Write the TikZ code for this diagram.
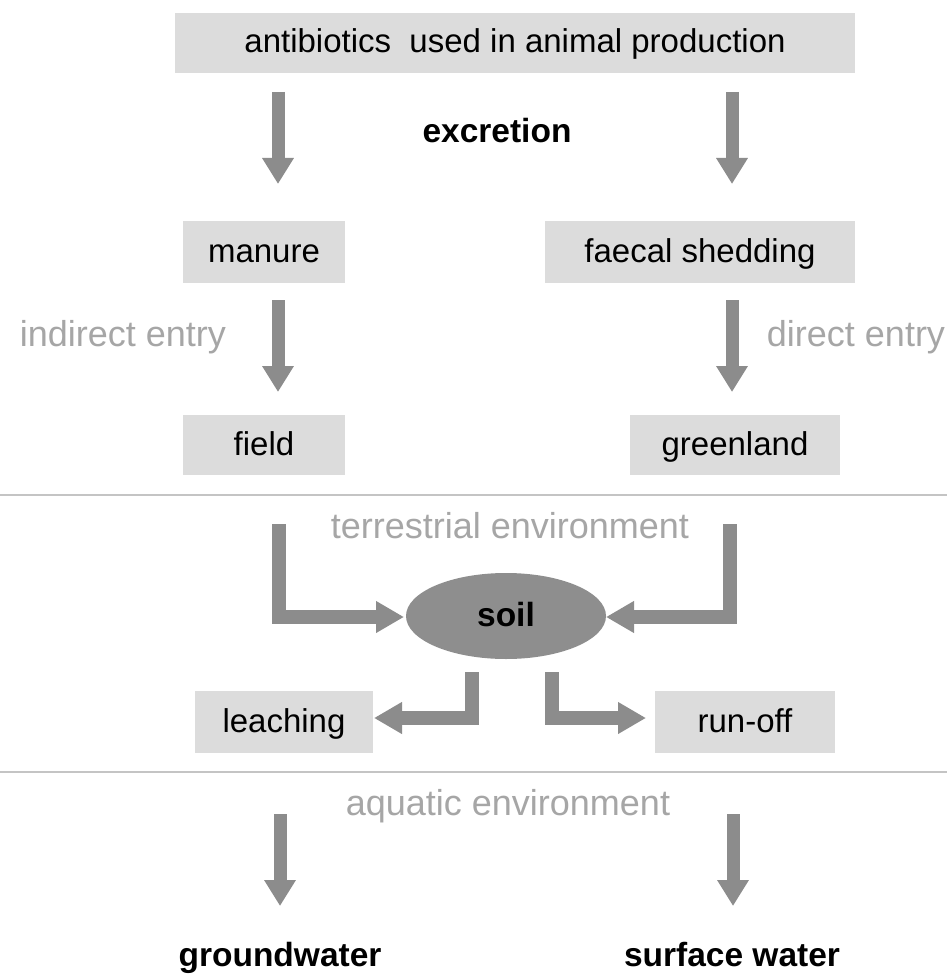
\documentclass[tikz,border=0pt]{standalone}
\usepackage{fontspec}
\setmainfont{Liberation Sans}
\usetikzlibrary{arrows.meta,shapes.geometric}
\definecolor{boxgray}{HTML}{DCDCDC}
\definecolor{arrgray}{HTML}{8C8C8C}
\definecolor{soilgray}{HTML}{8E8E8E}
\definecolor{txtgray}{HTML}{A6A6A6}
\definecolor{linegray}{HTML}{C4C4C4}
\begin{document}
\begin{tikzpicture}[x=1pt,y=-1pt,
  boxnode/.style={rectangle, fill=boxgray, inner sep=0pt, text height=26pt, text depth=6pt, font=\fontsize{33}{39}\selectfont},
  bigarrow/.style={draw=arrgray, line width=13pt, -{Triangle[width=30pt,length=26pt]}},
  elbow/.style={draw=arrgray, line width=14pt, -{Triangle[width=30pt,length=28pt]}},
  boldlabel/.style={text height=26pt, text depth=6pt, font=\fontsize{33.5}{39}\selectfont\bfseries},
  graylabel/.style={text=txtgray, text height=27pt, text depth=6pt, font=\fontsize{36}{42}\selectfont},
  sepline/.style={draw=linegray, line width=2pt}]
\useasboundingbox (0,0) rectangle (947,976);
\fill[white] (0,0) rectangle (947,976);

% boxes
\node[boxnode, minimum width=680pt, minimum height=60pt] (top) at (515,43) {antibiotics\ \ used in animal production};
\node[boldlabel] (excr) at (497,133) {excretion};
\node[boxnode, minimum width=162pt, minimum height=62pt] (manure) at (264,252) {manure};
\node[boxnode, minimum width=310pt, minimum height=62pt] (faecal) at (700,252) {faecal shedding};
\node[boxnode, minimum width=162pt, minimum height=60pt] (field) at (264,445) {field};
\node[boxnode, minimum width=210pt, minimum height=60pt] (green) at (735,445) {greenland};
\node[graylabel] (indirect) at (123,336) {indirect entry};
\node[graylabel] (direct) at (856,336) {direct entry};

% separators
\coordinate (l1a) at (0,495); \coordinate (l1b) at (947,495);
\coordinate (l2a) at (0,772); \coordinate (l2b) at (947,772);
\draw[sepline] (l1a) -- (l1b);
\draw[sepline] (l2a) -- (l2b);

\node[graylabel] (terr) at (510,528) {terrestrial environment};
\node[ellipse, fill=soilgray, minimum width=200pt, minimum height=86pt, inner sep=0pt, boldlabel] (soil) at (506,616) {soil};
\node[boxnode, minimum width=178pt, minimum height=62pt] (leach) at (284,722) {leaching};
\node[boxnode, minimum width=180pt, minimum height=62pt] (runoff) at (745,722) {run-off};
\node[graylabel] (aqua) at (508,805) {aquatic environment};
\node[boldlabel] (ground) at (280,956) {groundwater};
\node[boldlabel] (surface) at (732,956) {surface water};

% arrow coordinates
\coordinate (a1s) at (278,92);  \coordinate (a1e) at (278,184);
\coordinate (a2s) at (732,92);  \coordinate (a2e) at (732,184);
\coordinate (a3s) at (278,300); \coordinate (a3e) at (278,392);
\coordinate (a4s) at (732,300); \coordinate (a4e) at (732,392);
\coordinate (e1s) at (279,524); \coordinate (e1c) at (279,617); \coordinate (e1e) at (404,617);
\coordinate (e2s) at (730,524); \coordinate (e2c) at (730,617); \coordinate (e2e) at (606,617);
\coordinate (e3s) at (472,672); \coordinate (e3c) at (472,718); \coordinate (e3e) at (374,718);
\coordinate (e4s) at (552,672); \coordinate (e4c) at (552,718); \coordinate (e4e) at (646,718);
\coordinate (a5s) at (280,814); \coordinate (a5e) at (280,906);
\coordinate (a6s) at (733,814); \coordinate (a6e) at (733,906);

\draw[bigarrow] (a1s) -- (a1e);
\draw[bigarrow] (a2s) -- (a2e);
\draw[bigarrow] (a3s) -- (a3e);
\draw[bigarrow] (a4s) -- (a4e);
\draw[elbow] (e1s) -- (e1c) -- (e1e);
\draw[elbow] (e2s) -- (e2c) -- (e2e);
\draw[elbow] (e3s) -- (e3c) -- (e3e);
\draw[elbow] (e4s) -- (e4c) -- (e4e);
\draw[bigarrow] (a5s) -- (a5e);
\draw[bigarrow] (a6s) -- (a6e);
\end{tikzpicture}
\end{document}
